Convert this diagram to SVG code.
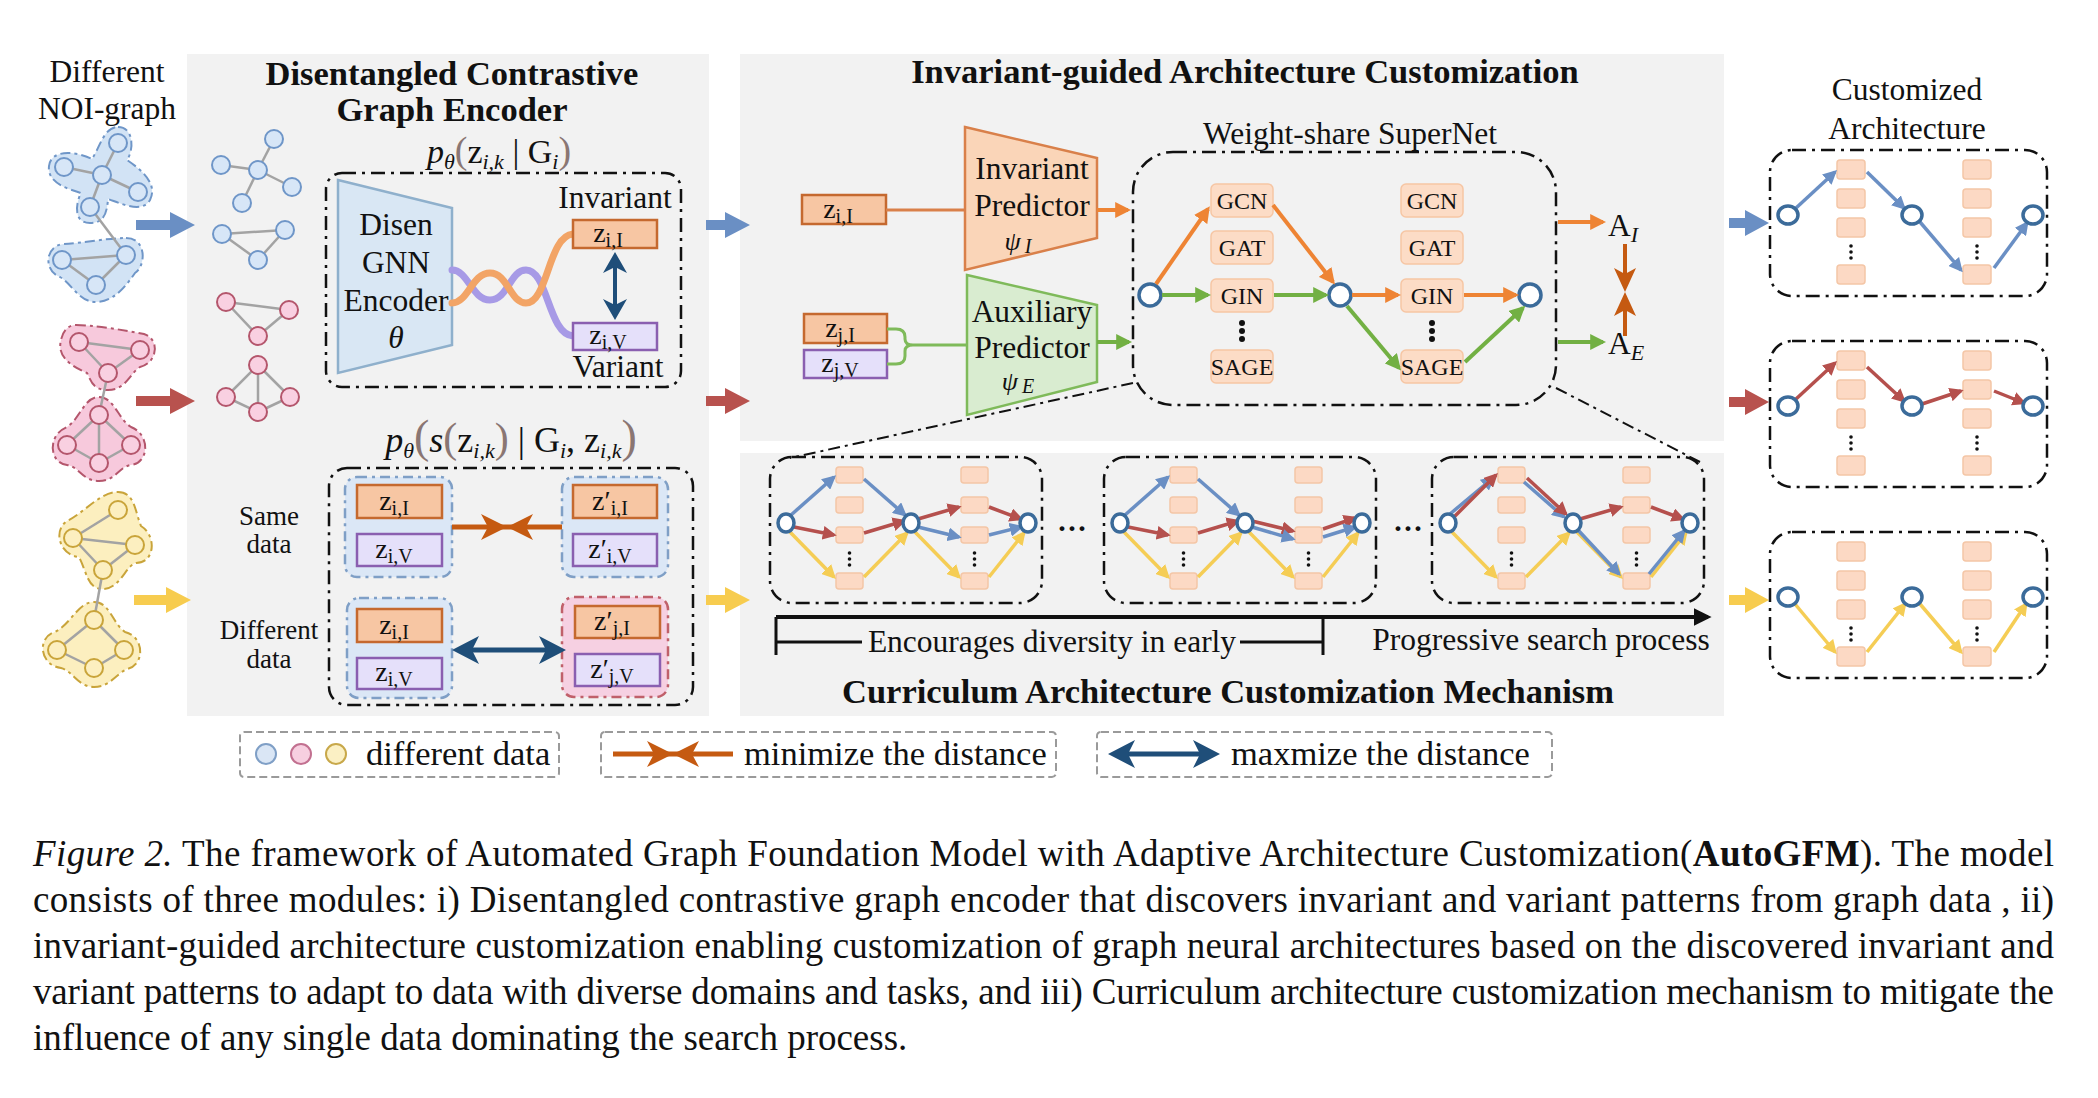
<svg xmlns="http://www.w3.org/2000/svg" width="2098" height="1098" viewBox="0 0 2098 1098">
<style>
text{font-family:"Liberation Serif","Times New Roman",serif;fill:#111}
.ttl{font-size:34.5px;font-weight:bold;text-anchor:middle}
.lb{font-size:31.5px;text-anchor:middle}
.sm{font-size:27px;text-anchor:middle}
.op{font-size:24px;text-anchor:middle}
.lg{font-size:34.5px}
.cap{font-size:37px}
.sub{font-size:20px}
.si{font-size:22px;font-style:italic}
.pr{fill:#8a7673}
.dd{fill:none;stroke:#111;stroke-width:2.5;stroke-dasharray:14 6 3 6}
.ddl{fill:none;stroke:#111;stroke-width:2;stroke-dasharray:12 5 3 5}
.panel{fill:#f2f2f2}
.zI{fill:#f7c6a3;stroke:#c5692f;stroke-width:2.5}
.zV{fill:#e5e0fa;stroke:#8a5fb0;stroke-width:2.5}
.grpB{fill:#dbe7f6;stroke:#7f9fc6;stroke-width:2.5;stroke-dasharray:10 5 3 5}
.grpP{fill:#f6d0e2;stroke:#c0606a;stroke-width:2.5;stroke-dasharray:10 5 3 5}
.opbox{fill:#fcdcc6;stroke:#f6c6a4;stroke-width:1.5}
.cell{fill:#fcd9c4;stroke:#f4c6a6;stroke-width:1.5}
.nd{fill:#fff;stroke:#3b6b9a;stroke-width:3.5}
.edge{stroke:#a3a3a3;stroke-width:2.5}
.gB{fill:#d7e6f7;stroke:#6f96c8;stroke-width:2}
.gP{fill:#f9d0e1;stroke:#b4566c;stroke-width:2}
.gY{fill:#fcefc0;stroke:#c9a43a;stroke-width:2}
.blB{fill:#d2e3f5;stroke:#6f96c8;stroke-width:2;stroke-dasharray:10 4 3 4}
.blP{fill:#f7c9dc;stroke:#b4566c;stroke-width:2;stroke-dasharray:10 4 3 4}
.blY{fill:#fcefbf;stroke:#c9a43a;stroke-width:2;stroke-dasharray:10 4 3 4}
.lB{stroke:#6a8fc4;stroke-width:3.5;fill:none;marker-end:url(#aB)}
.lR{stroke:#b5504d;stroke-width:3.5;fill:none;marker-end:url(#aR)}
.lY{stroke:#f5cd55;stroke-width:3.5;fill:none;marker-end:url(#aY)}
.lO{stroke:#ee8434;stroke-width:4;fill:none;marker-end:url(#aO)}
.lG{stroke:#72b043;stroke-width:4;fill:none;marker-end:url(#aG)}
.leg{fill:none;stroke:#9a9a9a;stroke-width:2;stroke-dasharray:8 4}
</style>
<defs>
<marker id="aB" viewBox="0 0 10 10" refX="8" refY="5" markerWidth="4" markerHeight="4" orient="auto"><path d="M0,0L10,5L0,10z" fill="#6a8fc4"/></marker>
<marker id="aR" viewBox="0 0 10 10" refX="8" refY="5" markerWidth="4" markerHeight="4" orient="auto"><path d="M0,0L10,5L0,10z" fill="#b5504d"/></marker>
<marker id="aY" viewBox="0 0 10 10" refX="8" refY="5" markerWidth="4" markerHeight="4" orient="auto"><path d="M0,0L10,5L0,10z" fill="#f5cd55"/></marker>
<marker id="aO" viewBox="0 0 10 10" refX="8" refY="5" markerWidth="4" markerHeight="4" orient="auto"><path d="M0,0L10,5L0,10z" fill="#ee8434"/></marker>
<marker id="aG" viewBox="0 0 10 10" refX="8" refY="5" markerWidth="4" markerHeight="4" orient="auto"><path d="M0,0L10,5L0,10z" fill="#72b043"/></marker>
<marker id="aK" viewBox="0 0 10 10" refX="8" refY="5" markerWidth="4.5" markerHeight="4.5" orient="auto"><path d="M0,0L10,5L0,10z" fill="#111"/></marker>
<g id="ccols">
<rect class="cell" x="66" y="10" width="27" height="16" rx="3"/><rect class="cell" x="66" y="40" width="27" height="16" rx="3"/><rect class="cell" x="66" y="70" width="27" height="16" rx="3"/><rect class="cell" x="66" y="116" width="27" height="16" rx="3"/>
<rect class="cell" x="191" y="10" width="27" height="16" rx="3"/><rect class="cell" x="191" y="40" width="27" height="16" rx="3"/><rect class="cell" x="191" y="70" width="27" height="16" rx="3"/><rect class="cell" x="191" y="116" width="27" height="16" rx="3"/>
<g fill="#111"><circle cx="79.5" cy="96" r="1.8"/><circle cx="79.5" cy="102" r="1.8"/><circle cx="79.5" cy="108" r="1.8"/><circle cx="204.5" cy="96" r="1.8"/><circle cx="204.5" cy="102" r="1.8"/><circle cx="204.5" cy="108" r="1.8"/></g>
</g>
<g id="cnodes"><ellipse class="nd" cx="16" cy="66" rx="8" ry="9"/><ellipse class="nd" cx="141" cy="66" rx="8" ry="9"/><ellipse class="nd" cx="258" cy="66" rx="8" ry="9"/></g>
<g id="acols">
<rect class="cell" x="67" y="10" width="28" height="19" rx="3"/><rect class="cell" x="67" y="39" width="28" height="19" rx="3"/><rect class="cell" x="67" y="68" width="28" height="19" rx="3"/><rect class="cell" x="67" y="115" width="28" height="19" rx="3"/>
<rect class="cell" x="193" y="10" width="28" height="19" rx="3"/><rect class="cell" x="193" y="39" width="28" height="19" rx="3"/><rect class="cell" x="193" y="68" width="28" height="19" rx="3"/><rect class="cell" x="193" y="115" width="28" height="19" rx="3"/>
<g fill="#111"><circle cx="81" cy="96" r="1.8"/><circle cx="81" cy="102" r="1.8"/><circle cx="81" cy="108" r="1.8"/><circle cx="207" cy="96" r="1.8"/><circle cx="207" cy="102" r="1.8"/><circle cx="207" cy="108" r="1.8"/></g>
</g>
<g id="anodes"><ellipse class="nd" cx="18" cy="65" rx="10" ry="9"/><ellipse class="nd" cx="142" cy="65" rx="10" ry="9"/><ellipse class="nd" cx="263" cy="65" rx="10" ry="9"/></g>
</defs>

<rect width="2098" height="1098" fill="#fff"/>

<g id="panels">
<rect class="panel" x="187" y="54" width="522" height="662"/>
<rect class="panel" x="740" y="54" width="984" height="387"/>
<rect class="panel" x="740" y="453" width="984" height="263"/>
</g>

<g id="titles">
<text class="lb" x="107" y="82">Different</text>
<text class="lb" x="107" y="119">NOI-graph</text>
<text class="ttl" x="452" y="85">Disentangled Contrastive</text>
<text class="ttl" x="452" y="121">Graph Encoder</text>
<text class="ttl" x="1245" y="83">Invariant-guided Architecture Customization</text>
<text class="lb" x="1907" y="100">Customized</text>
<text class="lb" x="1907" y="139">Architecture</text>
<text class="ttl" x="1228" y="703">Curriculum Architecture Customization Mechanism</text>
</g>

<g id="noi-blue">
<path class="blB" d="M118,127 C134,127 134,150 127,160 C142,170 158,184 150,200 C142,214 120,203 108,199 C107,213 104,223 90,223 C74,223 75,205 81,193 C68,189 47,183 49,166 C51,149 76,151 92,159 C100,147 104,127 118,127 Z"/>
<path class="blB" d="M126,238 C147,238 146,266 135,273 C124,289 112,302 96,302 C79,302 72,284 60,277 C43,271 45,245 64,244 C82,243 108,238 126,238 Z"/>
<g class="edge"><line x1="118" y1="143" x2="102" y2="175"/><line x1="64" y1="167" x2="102" y2="175"/><line x1="102" y1="175" x2="138" y2="192"/><line x1="102" y1="175" x2="90" y2="207"/><line x1="90" y1="207" x2="126" y2="255"/><line x1="126" y1="255" x2="62" y2="260"/><line x1="62" y1="260" x2="96" y2="285"/><line x1="96" y1="285" x2="126" y2="255"/></g>
<g class="gB"><circle cx="118" cy="143" r="9"/><circle cx="64" cy="167" r="9"/><circle cx="102" cy="175" r="9"/><circle cx="138" cy="192" r="9"/><circle cx="90" cy="207" r="9"/><circle cx="126" cy="255" r="9"/><circle cx="62" cy="260" r="9"/><circle cx="96" cy="285" r="9"/></g>
</g>
<g id="noi-pink">
<path class="blP" d="M76,325 C92,325 124,330 144,334 C161,340 157,363 140,367 C130,373 126,390 108,390 C92,390 91,380 87,373 C69,365 57,356 61,340 C63,330 69,325 76,325 Z"/>
<path class="blP" d="M99,397 C114,397 118,419 131,427 C151,435 149,463 131,465 C118,467 116,481 99,481 C82,481 80,467 67,465 C49,463 47,435 67,427 C80,419 84,397 99,397 Z"/>
<g class="edge"><line x1="79" y1="342" x2="140" y2="350"/><line x1="79" y1="342" x2="108" y2="373"/><line x1="140" y1="350" x2="108" y2="373"/><line x1="108" y1="373" x2="99" y2="415"/><line x1="99" y1="415" x2="67" y2="445"/><line x1="99" y1="415" x2="131" y2="445"/><line x1="99" y1="415" x2="99" y2="463"/><line x1="67" y1="445" x2="99" y2="463"/><line x1="131" y1="445" x2="99" y2="463"/></g>
<g class="gP"><circle cx="79" cy="342" r="9"/><circle cx="140" cy="350" r="9"/><circle cx="108" cy="373" r="9"/><circle cx="99" cy="415" r="9"/><circle cx="67" cy="445" r="9"/><circle cx="131" cy="445" r="9"/><circle cx="99" cy="463" r="9"/></g>
</g>
<g id="noi-yellow">
<path class="blY" d="M118,492 C135,492 135,512 141,526 C157,536 155,563 136,563 C126,565 120,589 103,589 C87,589 87,572 79,557 C59,555 53,530 67,521 C84,513 100,492 118,492 Z"/>
<path class="blY" d="M94,602 C110,602 112,623 125,632 C145,637 145,665 127,669 C117,673 110,687 94,687 C78,687 73,671 61,668 C39,665 37,637 55,632 C72,623 78,602 94,602 Z"/>
<g class="edge"><line x1="118" y1="510" x2="73" y2="538"/><line x1="73" y1="538" x2="135" y2="545"/><line x1="73" y1="538" x2="103" y2="570"/><line x1="135" y1="545" x2="103" y2="570"/><line x1="103" y1="570" x2="94" y2="620"/><line x1="94" y1="620" x2="57" y2="650"/><line x1="94" y1="620" x2="124" y2="650"/><line x1="57" y1="650" x2="94" y2="668"/><line x1="124" y1="650" x2="94" y2="668"/></g>
<g class="gY"><circle cx="118" cy="510" r="9"/><circle cx="73" cy="538" r="9"/><circle cx="135" cy="545" r="9"/><circle cx="103" cy="570" r="9"/><circle cx="94" cy="620" r="9"/><circle cx="57" cy="650" r="9"/><circle cx="124" cy="650" r="9"/><circle cx="94" cy="668" r="9"/></g>
</g>

<g id="subgraphs">
<g class="edge"><line x1="274" y1="139" x2="258" y2="170"/><line x1="221" y1="165" x2="258" y2="170"/><line x1="258" y1="170" x2="292" y2="187"/><line x1="258" y1="170" x2="242" y2="203"/>
<line x1="222" y1="234" x2="285" y2="230"/><line x1="222" y1="234" x2="258" y2="260"/><line x1="285" y1="230" x2="258" y2="260"/>
<line x1="226" y1="302" x2="289" y2="310"/><line x1="226" y1="302" x2="258" y2="336"/><line x1="289" y1="310" x2="258" y2="336"/>
<line x1="258" y1="365" x2="226" y2="397"/><line x1="258" y1="365" x2="290" y2="397"/><line x1="258" y1="365" x2="258" y2="412"/><line x1="226" y1="397" x2="258" y2="412"/><line x1="290" y1="397" x2="258" y2="412"/></g>
<g class="gB"><circle cx="274" cy="139" r="9"/><circle cx="221" cy="165" r="9"/><circle cx="258" cy="170" r="9"/><circle cx="292" cy="187" r="9"/><circle cx="242" cy="203" r="9"/><circle cx="222" cy="234" r="9"/><circle cx="285" cy="230" r="9"/><circle cx="258" cy="260" r="9"/></g>
<g class="gP"><circle cx="226" cy="302" r="9"/><circle cx="289" cy="310" r="9"/><circle cx="258" cy="336" r="9"/><circle cx="258" cy="365" r="9"/><circle cx="226" cy="397" r="9"/><circle cx="290" cy="397" r="9"/><circle cx="258" cy="412" r="9"/></g>
</g>

<g id="flow-arrows">
<polygon fill="#6a8fc4" points="136,220 170,220 170,212 195,225 170,238 170,230 136,230"/>
<polygon fill="#b8524e" points="136,396 170,396 170,388 195,401 170,414 170,406 136,406"/>
<polygon fill="#f7cc4f" points="134,595 166,595 166,587 191,600 166,613 166,605 134,605"/>
<polygon fill="#6a8fc4" points="706,220 725,220 725,212 750,225 725,238 725,230 706,230"/>
<polygon fill="#b8524e" points="706,396 725,396 725,388 750,401 725,414 725,406 706,406"/>
<polygon fill="#f7cc4f" points="706,595 725,595 725,587 750,600 725,613 725,605 706,605"/>
<polygon fill="#6a8fc4" points="1729,218 1745,218 1745,210 1769,223 1745,236 1745,228 1729,228"/>
<polygon fill="#b8524e" points="1729,397 1745,397 1745,389 1769,402 1745,415 1745,407 1729,407"/>
<polygon fill="#f7cc4f" points="1729,595 1745,595 1745,587 1769,600 1745,613 1745,605 1729,605"/>
</g>

<!-- encoder -->
<text x="499" y="163" text-anchor="middle" font-size="34"><tspan font-style="italic">p</tspan><tspan class="si" dy="6">θ</tspan><tspan dy="-6" class="pr" font-size="38">(</tspan>z<tspan class="si" dy="6">i,k</tspan><tspan dy="-6"> | G</tspan><tspan class="si" dy="6">i</tspan><tspan dy="-6" class="pr" font-size="38">)</tspan></text>
<rect class="dd" x="326" y="173" width="355" height="214" rx="16"/>
<g id="encoder">
<polygon points="338,180 452,208 452,345 338,373" fill="#d9e7f4" stroke="#8fb0cc" stroke-width="2.5"/>
<text class="lb" x="396" y="235">Disen</text>
<text class="lb" x="396" y="273">GNN</text>
<text class="lb" x="396" y="311">Encoder</text>
<text class="lb" x="396" y="348" font-style="italic">θ</text>
</g>
<g id="twist" fill="none" stroke-width="7" stroke-linecap="round">
<path d="M452,270 C468,270 472,300 490,300 C508,300 510,270 526,270 C548,270 548,334 573,336" stroke="#a79ae6"/>
<path d="M452,303 C468,303 472,273 490,273 C508,273 510,303 526,303 C548,303 548,236 573,234" stroke="#f2a466"/>
</g>
<g id="enc-zI"><text class="lb" x="615" y="208">Invariant</text><rect class="zI" x="573" y="220" width="84" height="28"/><text x="608" y="242" font-size="28" text-anchor="middle">z<tspan class="sub" dy="5">i,I</tspan></text></g>
<g id="enc-zV"><rect class="zV" x="573" y="323" width="84" height="27"/><text x="608" y="344" font-size="28" text-anchor="middle">z<tspan class="sub" dy="5">i,V</tspan></text><text class="lb" x="618" y="377">Variant</text></g>
<g id="enc-arrow"><line x1="615" y1="262" x2="615" y2="310" stroke="#1f4e79" stroke-width="4"/><polygon fill="#1f4e79" points="615,252 603,273 615,267 627,273"/><polygon fill="#1f4e79" points="615,320 603,299 615,305 627,299"/></g>

<!-- contrastive -->
<text x="511" y="452" text-anchor="middle" font-size="36"><tspan font-style="italic">p</tspan><tspan class="si" dy="6">θ</tspan><tspan dy="-6" class="pr" font-size="46">(</tspan><tspan font-style="italic">s</tspan><tspan class="pr" font-size="42">(</tspan>z<tspan class="si" dy="6">i,k</tspan><tspan dy="-6" class="pr" font-size="42">)</tspan> | G<tspan class="si" dy="6">i</tspan><tspan dy="-6">, z</tspan><tspan class="si" dy="6">i,k</tspan><tspan dy="-6" class="pr" font-size="46">)</tspan></text>
<rect class="dd" x="329" y="468" width="364" height="237" rx="18"/>
<text class="sm" x="269" y="525">Same</text><text class="sm" x="269" y="553">data</text>
<text class="sm" x="269" y="639">Different</text><text class="sm" x="269" y="668">data</text>
<g id="c-TL"><rect class="grpB" x="345" y="477" width="107" height="100" rx="12"/><rect class="zI" x="357" y="485" width="85" height="33"/><text x="394" y="510" font-size="28" text-anchor="middle">z<tspan class="sub" dy="5">i,I</tspan></text><rect class="zV" x="357" y="534" width="85" height="32"/><text x="394" y="558" font-size="28" text-anchor="middle">z<tspan class="sub" dy="5">i,V</tspan></text></g>
<g id="c-TR"><rect class="grpB" x="562" y="477" width="106" height="100" rx="12"/><rect class="zI" x="573" y="485" width="84" height="33"/><text x="610" y="510" font-size="28" text-anchor="middle">z′<tspan class="sub" dy="5">i,I</tspan></text><rect class="zV" x="573" y="534" width="84" height="32"/><text x="610" y="558" font-size="28" text-anchor="middle">z′<tspan class="sub" dy="5">i,V</tspan></text></g>
<g id="c-BL"><rect class="grpB" x="347" y="598" width="105" height="100" rx="12"/><rect class="zI" x="357" y="609" width="85" height="33"/><text x="394" y="634" font-size="28" text-anchor="middle">z<tspan class="sub" dy="5">i,I</tspan></text><rect class="zV" x="357" y="658" width="85" height="31"/><text x="394" y="681" font-size="28" text-anchor="middle">z<tspan class="sub" dy="5">i,V</tspan></text></g>
<g id="c-BR"><rect class="grpP" x="562" y="597" width="106" height="100" rx="12"/><rect class="zI" x="575" y="606" width="85" height="32"/><text x="612" y="630" font-size="28" text-anchor="middle">z′<tspan class="sub" dy="5">j,I</tspan></text><rect class="zV" x="575" y="654" width="85" height="32"/><text x="612" y="678" font-size="28" text-anchor="middle">z′<tspan class="sub" dy="5">j,V</tspan></text></g>
<g id="c-arrows">
<line x1="452" y1="527" x2="562" y2="527" stroke="#c55a11" stroke-width="5"/>
<polygon fill="#c55a11" points="507,527 481,514 488,527 481,540"/><polygon fill="#c55a11" points="507,527 533,514 526,527 533,540"/>
<line x1="462" y1="650" x2="556" y2="650" stroke="#1f4e79" stroke-width="5"/>
<polygon fill="#1f4e79" points="452,650 479,636 472,650 479,664"/><polygon fill="#1f4e79" points="566,650 539,636 546,650 539,664"/>
</g>

<g id="legend">
<rect class="leg" x="240" y="732" width="319" height="45" rx="4"/>
<circle cx="266" cy="754" r="10" fill="#dae6f5" stroke="#7f9fc6" stroke-width="2"/>
<circle cx="301" cy="754" r="10" fill="#f7cfe0" stroke="#c27090" stroke-width="2"/>
<circle cx="336" cy="754" r="10" fill="#fbf0c4" stroke="#c8a84a" stroke-width="2"/>
<text class="lg" x="366" y="765">different data</text>
<rect class="leg" x="601" y="732" width="455" height="45" rx="4"/>
<line x1="613" y1="754" x2="733" y2="754" stroke="#c55a11" stroke-width="5"/>
<polygon fill="#c55a11" points="673,754 647,741 654,754 647,767"/><polygon fill="#c55a11" points="673,754 699,741 692,754 699,767"/>
<text class="lg" x="744" y="765">minimize the distance</text>
<rect class="leg" x="1097" y="732" width="455" height="45" rx="4"/>
<line x1="1118" y1="754" x2="1210" y2="754" stroke="#1f4e79" stroke-width="5"/>
<polygon fill="#1f4e79" points="1108,754 1135,740 1128,754 1135,768"/><polygon fill="#1f4e79" points="1220,754 1193,740 1200,754 1193,768"/>
<text class="lg" x="1231" y="765">maxmize the distance</text>
</g>

<g id="pred-zI"><rect class="zI" x="802" y="195" width="84" height="29"/><text x="838" y="218" font-size="28" text-anchor="middle">z<tspan class="sub" dy="5">i,I</tspan></text></g>
<g id="inv-pred"><polygon points="965,127 1097,158 1097,238 965,270" fill="#fad5b8" stroke="#d9804a" stroke-width="2.5"/>
<text class="lb" x="1032" y="179">Invariant</text><text class="lb" x="1032" y="216">Predictor</text><text x="1018" y="250" font-size="26" font-style="italic" text-anchor="middle">ψ<tspan font-size="20" dx="4" dy="3">I</tspan></text></g>
<g id="pred-zj"><rect class="zI" x="804" y="314" width="83" height="29"/><text x="840" y="337" font-size="28" text-anchor="middle">z<tspan class="sub" dy="5">j,I</tspan></text><rect class="zV" x="804" y="350" width="83" height="28"/><text x="840" y="372" font-size="28" text-anchor="middle">z<tspan class="sub" dy="5">j,V</tspan></text></g>
<g id="aux-pred"><polygon points="967,275 1097,305 1097,382 967,415" fill="#d9ecd0" stroke="#7fba5a" stroke-width="2.5"/>
<text class="lb" x="1032" y="322">Auxiliary</text><text class="lb" x="1032" y="358">Predictor</text><text x="1018" y="390" font-size="26" font-style="italic" text-anchor="middle">ψ<tspan font-size="20" dx="4" dy="3">E</tspan></text></g>

<text class="lb" x="1350" y="144">Weight-share SuperNet</text>
<rect class="dd" x="1133" y="152" width="423" height="253" rx="40"/>
<g id="supernet-ops">
<rect class="opbox" x="1211" y="184" width="62" height="33" rx="5"/><text class="op" x="1242" y="209">GCN</text>
<rect class="opbox" x="1211" y="231" width="62" height="33" rx="5"/><text class="op" x="1242" y="256">GAT</text>
<rect class="opbox" x="1211" y="279" width="62" height="33" rx="5"/><text class="op" x="1242" y="304">GIN</text>
<rect class="opbox" x="1211" y="350" width="62" height="33" rx="5"/><text class="op" x="1242" y="375">SAGE</text>
<rect class="opbox" x="1401" y="184" width="62" height="33" rx="5"/><text class="op" x="1432" y="209">GCN</text>
<rect class="opbox" x="1401" y="231" width="62" height="33" rx="5"/><text class="op" x="1432" y="256">GAT</text>
<rect class="opbox" x="1401" y="279" width="62" height="33" rx="5"/><text class="op" x="1432" y="304">GIN</text>
<rect class="opbox" x="1401" y="350" width="62" height="33" rx="5"/><text class="op" x="1432" y="375">SAGE</text>
<g fill="#111"><circle cx="1242" cy="323" r="3"/><circle cx="1242" cy="331" r="3"/><circle cx="1242" cy="339" r="3"/><circle cx="1432" cy="323" r="3"/><circle cx="1432" cy="331" r="3"/><circle cx="1432" cy="339" r="3"/></g>
</g>
<g id="supernet-nodes"><circle class="nd" cx="1150" cy="295" r="11"/><circle class="nd" cx="1340" cy="295" r="11"/><circle class="nd" cx="1530" cy="295" r="11"/></g>
<g id="outputs">
<text x="1608" y="236" font-size="31.5">A<tspan class="si" dy="6">I</tspan></text>
<text x="1608" y="354" font-size="31.5">A<tspan class="si" dy="6">E</tspan></text>
</g>

<g id="connectors">
<line x1="886" y1="210" x2="965" y2="210" stroke="#d9804a" stroke-width="3"/>
<line x1="1097" y1="210" x2="1128" y2="210" class="lO"/>
<path d="M887,329 L896,329 Q905,329 905,337 L905,339 Q905,345 913,345 L967,345 M887,364 L896,364 Q905,364 905,356 L905,351 Q905,345 913,345" fill="none" stroke="#7fba5a" stroke-width="3"/>
<line x1="1097" y1="342" x2="1129" y2="342" class="lG"/>
<line x1="1156" y1="284" x2="1208" y2="209" class="lO"/>
<line x1="1273" y1="205" x2="1333" y2="282" class="lO"/>
<line x1="1352" y1="295" x2="1398" y2="295" class="lO"/>
<line x1="1464" y1="295" x2="1516" y2="295" class="lO"/>
<line x1="1162" y1="295" x2="1208" y2="295" class="lG"/>
<line x1="1274" y1="295" x2="1326" y2="295" class="lG"/>
<line x1="1347" y1="306" x2="1399" y2="368" class="lG"/>
<line x1="1465" y1="362" x2="1523" y2="308" class="lG"/>
<line x1="1558" y1="222" x2="1603" y2="222" class="lO"/>
<line x1="1558" y1="342" x2="1603" y2="342" class="lG"/>
<line x1="1625" y1="244" x2="1625" y2="285" stroke="#c55a11" stroke-width="4"/>
<line x1="1625" y1="299" x2="1625" y2="336" stroke="#c55a11" stroke-width="4"/>
<polygon fill="#c55a11" points="1625,292 1614,268 1625,274 1636,268"/><polygon fill="#c55a11" points="1625,292 1614,316 1625,310 1636,316"/>
<line class="ddl" x1="1133" y1="383" x2="790" y2="458"/>
<line class="ddl" x1="1556" y1="388" x2="1700" y2="462"/>
<line x1="776" y1="617" x2="1708" y2="617" stroke="#111" stroke-width="4" marker-end="url(#aK)"/>
<path d="M776,617 L776,655 M776,642 L862,642 M1240,642 L1323,642 M1323,617 L1323,655" fill="none" stroke="#111" stroke-width="3"/>
</g>
<text class="lb" x="1052" y="652">Encourages diversity in early</text>
<text class="lb" x="1541" y="650">Progressive search process</text>
<text x="1072" y="538" font-size="30" font-weight="bold" text-anchor="middle">···</text>
<text x="1408" y="538" font-size="30" font-weight="bold" text-anchor="middle">···</text>

<g id="cur1" transform="translate(770,457)">
<rect class="dd" x="0" y="0" width="272" height="146" rx="22"/>
<use href="#ccols"/>
<g>
<line class="lY" x1="20" y1="75" x2="64" y2="120"/><line class="lY" x1="94" y1="120" x2="137" y2="76"/><line class="lY" x1="145" y1="75" x2="189" y2="120"/><line class="lY" x1="219" y1="120" x2="254" y2="76"/>
<line class="lR" x1="24" y1="70" x2="64" y2="78"/><line class="lR" x1="94" y1="76" x2="134" y2="64"/><line class="lR" x1="148" y1="62" x2="189" y2="50"/><line class="lR" x1="219" y1="50" x2="251" y2="62"/>
<line class="lB" x1="21" y1="58" x2="64" y2="20"/><line class="lB" x1="94" y1="22" x2="135" y2="58"/><line class="lB" x1="148" y1="70" x2="189" y2="80"/><line class="lB" x1="219" y1="78" x2="251" y2="70"/>
</g>
<use href="#cnodes"/>
</g>
<g id="cur2" transform="translate(1104,457)">
<rect class="dd" x="0" y="0" width="272" height="146" rx="22"/>
<use href="#ccols"/>
<g>
<line class="lY" x1="20" y1="75" x2="64" y2="120"/><line class="lY" x1="94" y1="120" x2="137" y2="76"/><line class="lY" x1="145" y1="75" x2="189" y2="120"/><line class="lY" x1="219" y1="120" x2="254" y2="76"/>
<line class="lR" x1="24" y1="70" x2="64" y2="78"/><line class="lR" x1="94" y1="76" x2="134" y2="64"/><line class="lR" x1="148" y1="64" x2="189" y2="74"/><line class="lR" x1="219" y1="72" x2="251" y2="61"/>
<line class="lB" x1="21" y1="58" x2="64" y2="20"/><line class="lB" x1="94" y1="22" x2="135" y2="58"/><line class="lB" x1="148" y1="70" x2="189" y2="82"/><line class="lB" x1="219" y1="80" x2="251" y2="70"/>
</g>
<use href="#cnodes"/>
</g>
<g id="cur3" transform="translate(1432,457)">
<rect class="dd" x="0" y="0" width="272" height="146" rx="22"/>
<use href="#ccols"/>
<g>
<line class="lY" x1="20" y1="75" x2="64" y2="120"/><line class="lY" x1="94" y1="120" x2="137" y2="76"/><line class="lY" x1="145" y1="75" x2="189" y2="120"/><line class="lY" x1="219" y1="120" x2="254" y2="76"/>
<line class="lB" x1="18" y1="57" x2="61" y2="21"/><line class="lB" x1="92" y1="25" x2="132" y2="60"/><line class="lB" x1="146" y1="73" x2="187" y2="117"/><line class="lB" x1="217" y1="117" x2="252" y2="74"/>
<line class="lR" x1="22" y1="60" x2="64" y2="18"/><line class="lR" x1="95" y1="21" x2="134" y2="57"/><line class="lR" x1="148" y1="62" x2="189" y2="50"/><line class="lR" x1="219" y1="50" x2="251" y2="62"/>
</g>
<use href="#cnodes"/>
</g>

<g id="arch1" transform="translate(1770,150)">
<rect class="dd" x="0" y="0" width="277" height="146" rx="22"/>
<use href="#acols"/>
<g><line class="lB" x1="26" y1="58" x2="65" y2="22"/><line class="lB" x1="97" y1="22" x2="134" y2="58"/><line class="lB" x1="150" y1="72" x2="191" y2="120"/><line class="lB" x1="224" y1="118" x2="257" y2="73"/></g>
<use href="#anodes"/>
</g>
<g id="arch2" transform="translate(1770,341)">
<rect class="dd" x="0" y="0" width="277" height="146" rx="22"/>
<use href="#acols"/>
<g><line class="lR" x1="26" y1="58" x2="65" y2="22"/><line class="lR" x1="97" y1="26" x2="134" y2="60"/><line class="lR" x1="152" y1="63" x2="191" y2="50"/><line class="lR" x1="224" y1="50" x2="254" y2="62"/></g>
<use href="#anodes"/>
</g>
<g id="arch3" transform="translate(1770,532)">
<rect class="dd" x="0" y="0" width="277" height="146" rx="22"/>
<use href="#acols"/>
<g><line class="lY" x1="25" y1="72" x2="65" y2="120"/><line class="lY" x1="97" y1="120" x2="135" y2="72"/><line class="lY" x1="150" y1="72" x2="191" y2="120"/><line class="lY" x1="224" y1="120" x2="256" y2="72"/></g>
<use href="#anodes"/>
</g>

<g id="caption">
<text class="cap" x="33" y="866" textLength="2021" lengthAdjust="spacing"><tspan font-style="italic">Figure 2.</tspan> The framework of Automated Graph Foundation Model with Adaptive Architecture Customization(<tspan font-weight="bold">AutoGFM</tspan>). The model</text>
<text class="cap" x="33" y="912" textLength="2021" lengthAdjust="spacing">consists of three modules: i) Disentangled contrastive graph encoder that discovers invariant and variant patterns from graph data , ii)</text>
<text class="cap" x="33" y="958" textLength="2021" lengthAdjust="spacing">invariant-guided architecture customization enabling customization of graph neural architectures based on the discovered invariant and</text>
<text class="cap" x="33" y="1004" textLength="2021" lengthAdjust="spacing">variant patterns to adapt to data with diverse domains and tasks, and iii) Curriculum architecture customization mechanism to mitigate the</text>
<text class="cap" x="33" y="1050">influence of any single data dominating the search process.</text>
</g>
</svg>
